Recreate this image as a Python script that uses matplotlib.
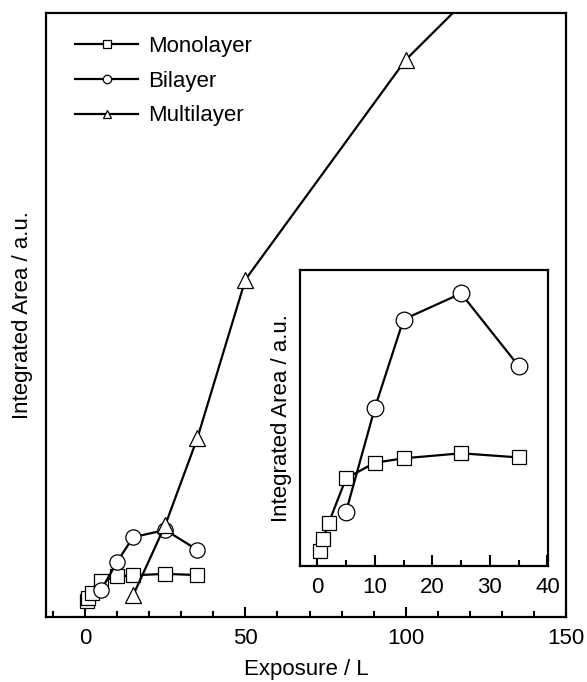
import matplotlib
matplotlib.use("Agg")
import matplotlib.pyplot as plt
from matplotlib.ticker import MultipleLocator, NullLocator

plt.rcParams["font.family"] = ["Liberation Sans", "DejaVu Sans"]

# exposure (L) and integrated area (a.u.)
mono_x = [0.5, 1, 2, 5, 10, 15, 25, 35]
mono_y = [5.2, 9.0, 14.6, 29.6, 34.9, 36.4, 38.1, 36.7]
bi_x = [5, 10, 15, 25, 35]
bi_y = [18.3, 53.3, 83.3, 92.1, 67.6]
multi_x = [15, 25, 35, 50, 100, 150]
multi_y = [12.2, 98.3, 205, 400, 670, 866]

xticks_main = [0, 50, 100, 150]
xticks_inset = [0, 10, 20, 30, 40]

fs = 16
lw = 1.6
mk = dict(markerfacecolor="white", markeredgecolor="black", markeredgewidth=0.9)

fig = plt.figure(figsize=(5.87, 6.82), dpi=100)
ax = fig.add_axes([0.078, 0.0953, 0.886, 0.886])

ax.plot(mono_x, mono_y, "-s", color="black", lw=lw, ms=10, label="Monolayer", **mk)
ax.plot(bi_x, bi_y, "-o", color="black", lw=lw, ms=11, label="Bilayer", **mk)
ax.plot(multi_x, multi_y, "-^", color="black", lw=lw, ms=11, label="Multilayer", **mk)

ax.set_xlim(-12.3, 150)
ax.set_ylim(-14.9, 728)
ax.set_xticks(xticks_main)
ax.xaxis.set_minor_locator(MultipleLocator(10))
ax.yaxis.set_major_locator(NullLocator())
ax.tick_params(axis="x", which="major", direction="in", length=7, width=1.5,
               labelsize=fs, pad=8)
ax.tick_params(axis="x", which="minor", direction="in", length=4, width=1.5)
for s in ax.spines.values():
    s.set_linewidth(1.6)
ax.set_xlabel("Exposure / L", fontsize=fs, labelpad=7)
ax.set_ylabel("Integrated Area / a.u.", fontsize=fs, labelpad=9)

ax.legend(loc="upper left", frameon=False, fontsize=fs, markerscale=0.55,
          handlelength=2.85, labelspacing=0.62, handletextpad=0.45,
          bbox_to_anchor=(0.018, 0.995))

# inset: low-exposure region
ins = fig.add_axes([0.511, 0.170, 0.4225, 0.434])
ins.plot(mono_x, mono_y, "-s", color="black", lw=lw, ms=10, **mk)
ins.plot(bi_x, bi_y, "-o", color="black", lw=lw, ms=12, **mk)
ins.set_xlim(-3, 40.1)
ins.set_ylim(0, 100)
ins.set_xticks(xticks_inset)
ins.xaxis.set_minor_locator(MultipleLocator(5))
ins.yaxis.set_major_locator(NullLocator())
ins.tick_params(axis="x", which="major", direction="in", length=8, width=1.5,
                labelsize=fs, pad=8)
ins.tick_params(axis="x", which="minor", direction="in", length=4, width=1.5)
for s in ins.spines.values():
    s.set_linewidth(1.6)
ins.set_ylabel("Integrated Area / a.u.", fontsize=fs, labelpad=6)

fig.savefig("out.png", dpi=100)
